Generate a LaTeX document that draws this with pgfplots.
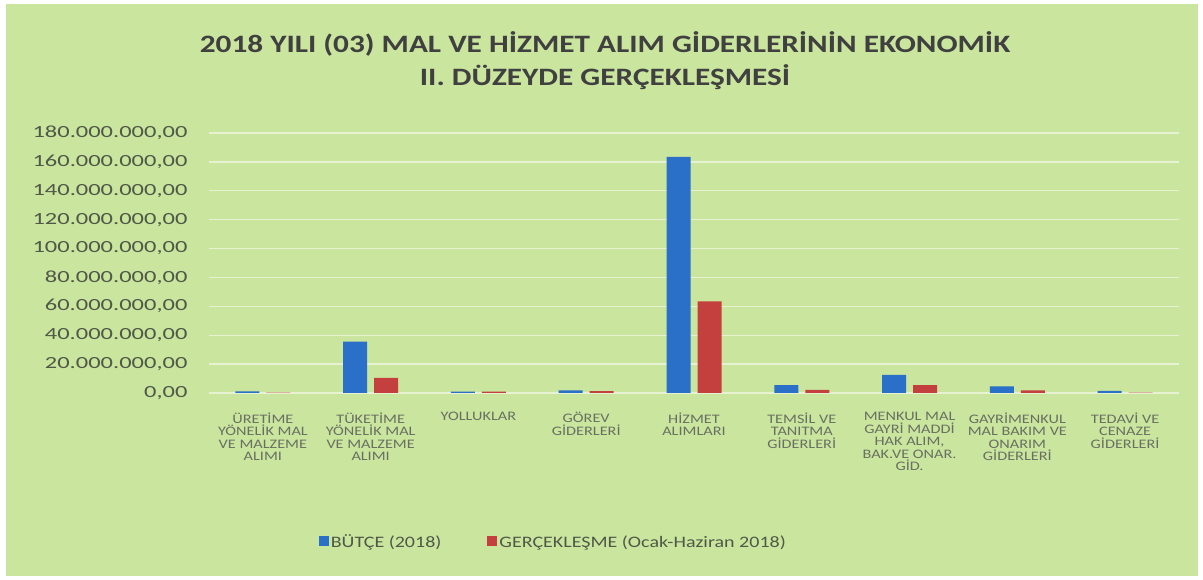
\documentclass[border=0pt]{standalone}
\usepackage{pgfplots}
\pgfplotsset{compat=1.18}
\usepackage{fontspec}
\setmainfont{Carlito}[FakeStretch=1.25]
\newfontfamily\tickfont{Carlito}[FakeStretch=1.44]
\definecolor{bg}{RGB}{202,229,158}
\definecolor{gridc}{RGB}{230,242,210}
\definecolor{bblue}{RGB}{42,112,200}
\definecolor{bred}{RGB}{196,64,62}
\definecolor{titlec}{RGB}{64,64,64}
\definecolor{tickc}{RGB}{80,88,72}
\definecolor{xlabc}{RGB}{105,112,98}
\begin{document}
\begin{tikzpicture}
\useasboundingbox (0,0) rectangle (1203pt,580pt);
\fill[white] (0,0) rectangle (1203pt,580pt);
\fill[bg] (6pt,4pt) rectangle (1198pt,576pt);
\node[align=center, text=titlec, font=\fontsize{25}{33}\selectfont\bfseries] at (605pt,519pt)
  {2018 YILI (03) MAL VE HİZMET ALIM GİDERLERİNİN EKONOMİK\\II. DÜZEYDE GERÇEKLEŞMESİ};
\begin{axis}[
  at={(209pt,187pt)}, anchor=south west,
  scale only axis, width=970pt, height=260pt,
  xmin=-0.5, xmax=8.5, ymin=0, ymax=180,
  enlargelimits=false,
  ybar=7pt, bar width=24pt,
  axis line style={draw=none},
  major tick length=0pt,
  ymajorgrids, grid style={color=gridc, line width=1.3pt},
  ytick={0,20,...,180},
  yticklabels={{0,00},{20.000.000,00},{40.000.000,00},{60.000.000,00},{80.000.000,00},{100.000.000,00},{120.000.000,00},{140.000.000,00},{160.000.000,00},{180.000.000,00}},
  yticklabel style={anchor=east, xshift=-18pt, text=tickc, font=\tickfont\fontsize{17}{20}\selectfont},
  xtick={0,...,8},
  xticklabels={{ÜRETİME\\YÖNELİK MAL\\VE MALZEME\\ALIMI},{TÜKETİME\\YÖNELİK MAL\\VE MALZEME\\ALIMI},{YOLLUKLAR},{GÖREV\\GİDERLERİ},{HİZMET\\ALIMLARI},{TEMSİL VE\\TANITMA\\GİDERLERİ},{MENKUL MAL\\GAYRİ MADDİ\\HAK ALIM,\\BAK.VE ONAR.\\GİD.},{GAYRİMENKUL\\MAL BAKIM VE\\ONARIM\\GİDERLERİ},{TEDAVİ VE\\CENAZE\\GİDERLERİ}},
  xticklabel style={anchor=north, yshift=-16pt, align=center, text=xlabc, font=\fontsize{13}{12.5}\selectfont},
  legend style={at={(0.355,-0.573)}, anchor=center, draw=none, fill=none,
    font=\fontsize{16}{18}\selectfont, text=tickc,
    /tikz/every even column/.append style={column sep=44pt}},
  legend columns=2,
  legend image code/.code={\fill[#1] (0pt,-4pt) rectangle (10pt,6pt);},
]
\addplot[fill=bblue, draw=none] coordinates {(0,1.2) (1,35.5) (2,1.0) (3,1.8) (4,163.5) (5,5.5) (6,12.5) (7,4.5) (8,1.5)};
\addplot[fill=bred, draw=none] coordinates {(0,0.2) (1,10.5) (2,1.0) (3,1.3) (4,63.5) (5,2.2) (6,5.5) (7,1.8) (8,0.2)};
\legend{BÜTÇE (2018), GERÇEKLEŞME (Ocak-Haziran 2018)}
\end{axis}
\end{tikzpicture}
\end{document}
